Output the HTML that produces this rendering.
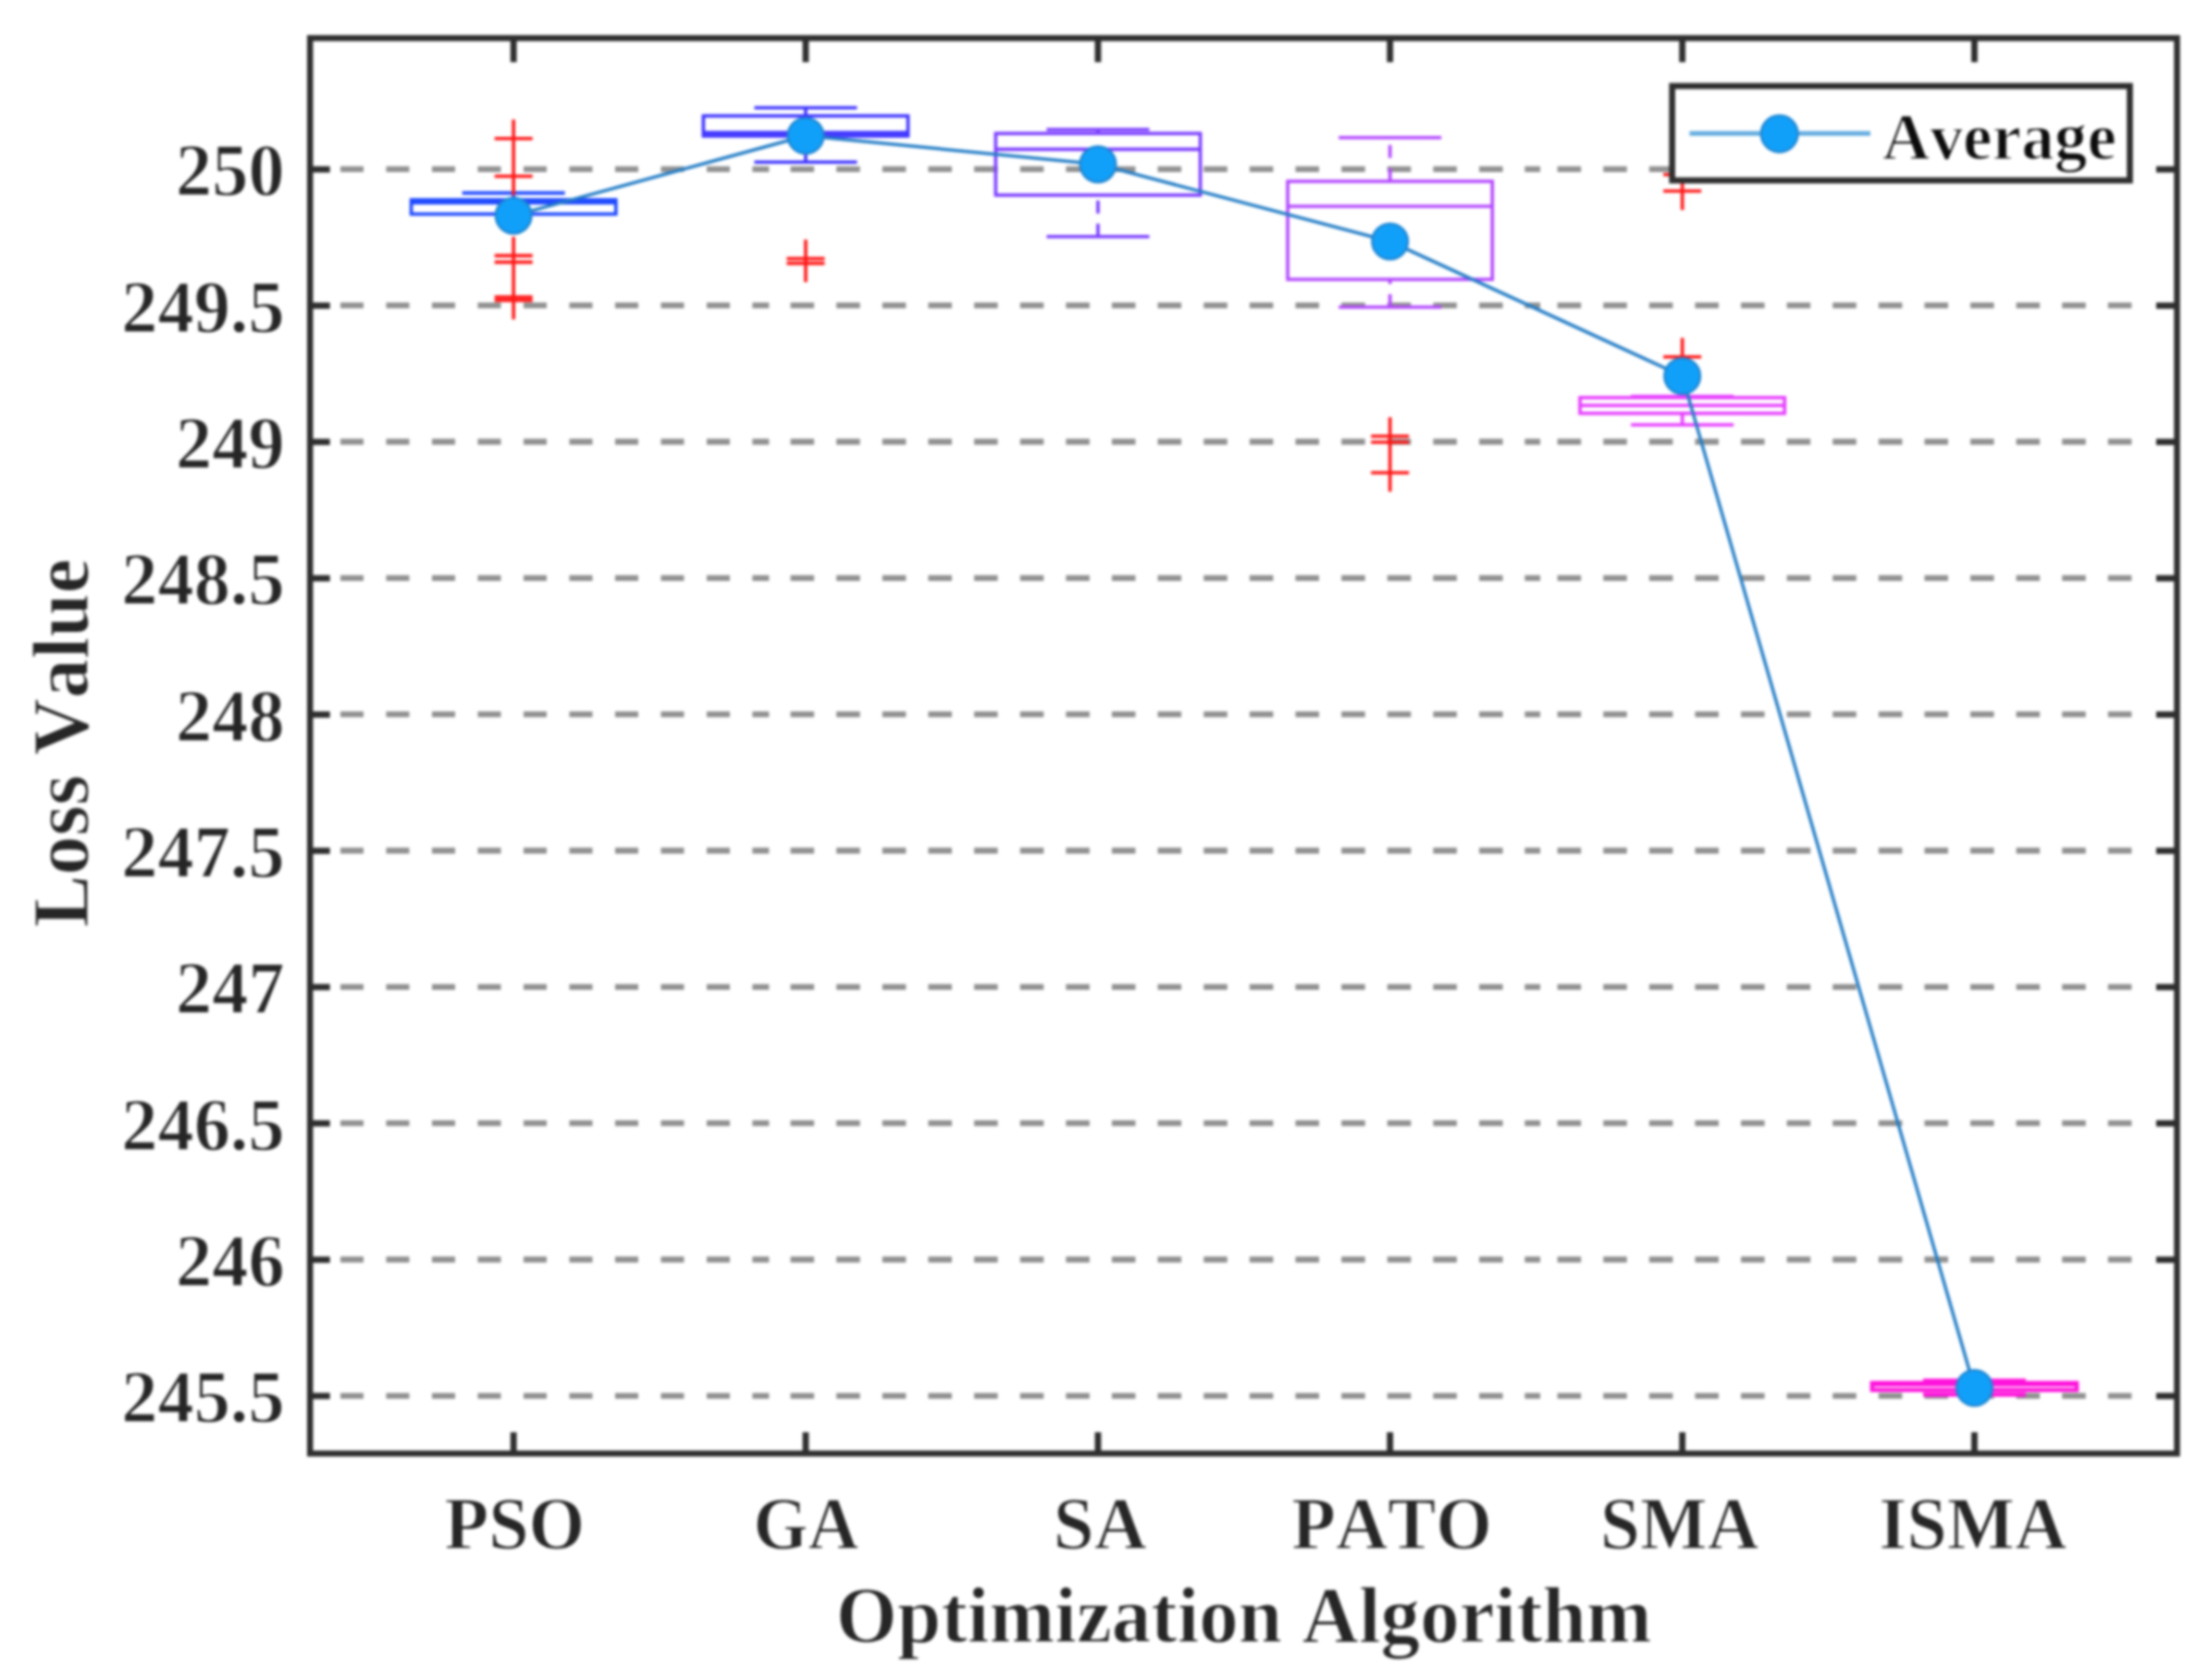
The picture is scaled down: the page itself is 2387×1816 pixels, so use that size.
<!DOCTYPE html>
<html lang="en"><head><meta charset="utf-8"><title>Loss value by optimization algorithm</title>
<style>
html,body{margin:0;padding:0;background:#fff;}
body{width:2387px;height:1816px;overflow:hidden;}
svg{display:block;filter:blur(1.4px);}
text{font-family:"Liberation Serif",serif;font-weight:bold;fill:#262626;font-kerning:none;stroke:#ffffff;stroke-width:1.3px;stroke-linejoin:round;}
.tick{font-size:80.6px;}
.lab{font-size:87.4px;}
.leg{font-size:71.2px;fill:#0c0c0c;stroke-width:1.6px;}
</style></head><body>
<svg width="2387" height="1816" viewBox="0 0 2387 1816">
<rect x="0" y="0" width="2387" height="1816" fill="#ffffff"/>
<path d="M368.0 182.9h25.0M417.5 182.9h25.0M467.0 182.9h25.0M516.5 182.9h25.0M566.0 182.9h25.0M615.5 182.9h25.0M665.0 182.9h25.0M714.5 182.9h25.0M764.0 182.9h25.0M813.4 182.9h18.0M854.6 182.9h25.5M904.2 182.9h25.5M953.9 182.9h25.5M1003.5 182.9h25.5M1053.1 182.9h25.5M1102.8 182.9h25.5M1152.4 182.9h25.5M1202.0 182.9h25.5M1251.6 182.9h25.5M1301.3 182.9h25.5M1350.9 182.9h25.5M1400.5 182.9h25.5M1450.2 182.9h25.5M1499.8 182.9h25.5M1549.4 182.9h25.5M1599.1 182.9h25.5M1648.4 182.9h16.7M1683.7 182.9h25.5M1733.3 182.9h25.5M1782.9 182.9h25.5M1832.5 182.9h25.5M1882.1 182.9h25.5M1931.7 182.9h25.5M1981.3 182.9h25.5M2030.9 182.9h25.5M2080.5 182.9h25.5M2130.1 182.9h25.5M2179.7 182.9h25.5M2229.3 182.9h25.5M2278.9 182.9h25.5M368.0 330.2h25.0M417.5 330.2h25.0M467.0 330.2h25.0M516.5 330.2h25.0M566.0 330.2h25.0M615.5 330.2h25.0M665.0 330.2h25.0M714.5 330.2h25.0M764.0 330.2h25.0M813.4 330.2h18.0M854.6 330.2h25.5M904.2 330.2h25.5M953.9 330.2h25.5M1003.5 330.2h25.5M1053.1 330.2h25.5M1102.8 330.2h25.5M1152.4 330.2h25.5M1202.0 330.2h25.5M1251.6 330.2h25.5M1301.3 330.2h25.5M1350.9 330.2h25.5M1400.5 330.2h25.5M1450.2 330.2h25.5M1499.8 330.2h25.5M1549.4 330.2h25.5M1599.1 330.2h25.5M1648.4 330.2h16.7M1683.7 330.2h25.5M1733.3 330.2h25.5M1782.9 330.2h25.5M1832.5 330.2h25.5M1882.1 330.2h25.5M1931.7 330.2h25.5M1981.3 330.2h25.5M2030.9 330.2h25.5M2080.5 330.2h25.5M2130.1 330.2h25.5M2179.7 330.2h25.5M2229.3 330.2h25.5M2278.9 330.2h25.5M368.0 477.5h25.0M417.5 477.5h25.0M467.0 477.5h25.0M516.5 477.5h25.0M566.0 477.5h25.0M615.5 477.5h25.0M665.0 477.5h25.0M714.5 477.5h25.0M764.0 477.5h25.0M813.4 477.5h18.0M854.6 477.5h25.5M904.2 477.5h25.5M953.9 477.5h25.5M1003.5 477.5h25.5M1053.1 477.5h25.5M1102.8 477.5h25.5M1152.4 477.5h25.5M1202.0 477.5h25.5M1251.6 477.5h25.5M1301.3 477.5h25.5M1350.9 477.5h25.5M1400.5 477.5h25.5M1450.2 477.5h25.5M1499.8 477.5h25.5M1549.4 477.5h25.5M1599.1 477.5h25.5M1648.4 477.5h16.7M1683.7 477.5h25.5M1733.3 477.5h25.5M1782.9 477.5h25.5M1832.5 477.5h25.5M1882.1 477.5h25.5M1931.7 477.5h25.5M1981.3 477.5h25.5M2030.9 477.5h25.5M2080.5 477.5h25.5M2130.1 477.5h25.5M2179.7 477.5h25.5M2229.3 477.5h25.5M2278.9 477.5h25.5M368.0 624.9h25.0M417.5 624.9h25.0M467.0 624.9h25.0M516.5 624.9h25.0M566.0 624.9h25.0M615.5 624.9h25.0M665.0 624.9h25.0M714.5 624.9h25.0M764.0 624.9h25.0M813.4 624.9h18.0M854.6 624.9h25.5M904.2 624.9h25.5M953.9 624.9h25.5M1003.5 624.9h25.5M1053.1 624.9h25.5M1102.8 624.9h25.5M1152.4 624.9h25.5M1202.0 624.9h25.5M1251.6 624.9h25.5M1301.3 624.9h25.5M1350.9 624.9h25.5M1400.5 624.9h25.5M1450.2 624.9h25.5M1499.8 624.9h25.5M1549.4 624.9h25.5M1599.1 624.9h25.5M1648.4 624.9h16.7M1683.7 624.9h25.5M1733.3 624.9h25.5M1782.9 624.9h25.5M1832.5 624.9h25.5M1882.1 624.9h25.5M1931.7 624.9h25.5M1981.3 624.9h25.5M2030.9 624.9h25.5M2080.5 624.9h25.5M2130.1 624.9h25.5M2179.7 624.9h25.5M2229.3 624.9h25.5M2278.9 624.9h25.5M368.0 772.2h25.0M417.5 772.2h25.0M467.0 772.2h25.0M516.5 772.2h25.0M566.0 772.2h25.0M615.5 772.2h25.0M665.0 772.2h25.0M714.5 772.2h25.0M764.0 772.2h25.0M813.4 772.2h18.0M854.6 772.2h25.5M904.2 772.2h25.5M953.9 772.2h25.5M1003.5 772.2h25.5M1053.1 772.2h25.5M1102.8 772.2h25.5M1152.4 772.2h25.5M1202.0 772.2h25.5M1251.6 772.2h25.5M1301.3 772.2h25.5M1350.9 772.2h25.5M1400.5 772.2h25.5M1450.2 772.2h25.5M1499.8 772.2h25.5M1549.4 772.2h25.5M1599.1 772.2h25.5M1648.4 772.2h16.7M1683.7 772.2h25.5M1733.3 772.2h25.5M1782.9 772.2h25.5M1832.5 772.2h25.5M1882.1 772.2h25.5M1931.7 772.2h25.5M1981.3 772.2h25.5M2030.9 772.2h25.5M2080.5 772.2h25.5M2130.1 772.2h25.5M2179.7 772.2h25.5M2229.3 772.2h25.5M2278.9 772.2h25.5M368.0 919.5h25.0M417.5 919.5h25.0M467.0 919.5h25.0M516.5 919.5h25.0M566.0 919.5h25.0M615.5 919.5h25.0M665.0 919.5h25.0M714.5 919.5h25.0M764.0 919.5h25.0M813.4 919.5h18.0M854.6 919.5h25.5M904.2 919.5h25.5M953.9 919.5h25.5M1003.5 919.5h25.5M1053.1 919.5h25.5M1102.8 919.5h25.5M1152.4 919.5h25.5M1202.0 919.5h25.5M1251.6 919.5h25.5M1301.3 919.5h25.5M1350.9 919.5h25.5M1400.5 919.5h25.5M1450.2 919.5h25.5M1499.8 919.5h25.5M1549.4 919.5h25.5M1599.1 919.5h25.5M1648.4 919.5h16.7M1683.7 919.5h25.5M1733.3 919.5h25.5M1782.9 919.5h25.5M1832.5 919.5h25.5M1882.1 919.5h25.5M1931.7 919.5h25.5M1981.3 919.5h25.5M2030.9 919.5h25.5M2080.5 919.5h25.5M2130.1 919.5h25.5M2179.7 919.5h25.5M2229.3 919.5h25.5M2278.9 919.5h25.5M368.0 1066.8h25.0M417.5 1066.8h25.0M467.0 1066.8h25.0M516.5 1066.8h25.0M566.0 1066.8h25.0M615.5 1066.8h25.0M665.0 1066.8h25.0M714.5 1066.8h25.0M764.0 1066.8h25.0M813.4 1066.8h18.0M854.6 1066.8h25.5M904.2 1066.8h25.5M953.9 1066.8h25.5M1003.5 1066.8h25.5M1053.1 1066.8h25.5M1102.8 1066.8h25.5M1152.4 1066.8h25.5M1202.0 1066.8h25.5M1251.6 1066.8h25.5M1301.3 1066.8h25.5M1350.9 1066.8h25.5M1400.5 1066.8h25.5M1450.2 1066.8h25.5M1499.8 1066.8h25.5M1549.4 1066.8h25.5M1599.1 1066.8h25.5M1648.4 1066.8h16.7M1683.7 1066.8h25.5M1733.3 1066.8h25.5M1782.9 1066.8h25.5M1832.5 1066.8h25.5M1882.1 1066.8h25.5M1931.7 1066.8h25.5M1981.3 1066.8h25.5M2030.9 1066.8h25.5M2080.5 1066.8h25.5M2130.1 1066.8h25.5M2179.7 1066.8h25.5M2229.3 1066.8h25.5M2278.9 1066.8h25.5M368.0 1214.1h25.0M417.5 1214.1h25.0M467.0 1214.1h25.0M516.5 1214.1h25.0M566.0 1214.1h25.0M615.5 1214.1h25.0M665.0 1214.1h25.0M714.5 1214.1h25.0M764.0 1214.1h25.0M813.4 1214.1h18.0M854.6 1214.1h25.5M904.2 1214.1h25.5M953.9 1214.1h25.5M1003.5 1214.1h25.5M1053.1 1214.1h25.5M1102.8 1214.1h25.5M1152.4 1214.1h25.5M1202.0 1214.1h25.5M1251.6 1214.1h25.5M1301.3 1214.1h25.5M1350.9 1214.1h25.5M1400.5 1214.1h25.5M1450.2 1214.1h25.5M1499.8 1214.1h25.5M1549.4 1214.1h25.5M1599.1 1214.1h25.5M1648.4 1214.1h16.7M1683.7 1214.1h25.5M1733.3 1214.1h25.5M1782.9 1214.1h25.5M1832.5 1214.1h25.5M1882.1 1214.1h25.5M1931.7 1214.1h25.5M1981.3 1214.1h25.5M2030.9 1214.1h25.5M2080.5 1214.1h25.5M2130.1 1214.1h25.5M2179.7 1214.1h25.5M2229.3 1214.1h25.5M2278.9 1214.1h25.5M368.0 1361.5h25.0M417.5 1361.5h25.0M467.0 1361.5h25.0M516.5 1361.5h25.0M566.0 1361.5h25.0M615.5 1361.5h25.0M665.0 1361.5h25.0M714.5 1361.5h25.0M764.0 1361.5h25.0M813.4 1361.5h18.0M854.6 1361.5h25.5M904.2 1361.5h25.5M953.9 1361.5h25.5M1003.5 1361.5h25.5M1053.1 1361.5h25.5M1102.8 1361.5h25.5M1152.4 1361.5h25.5M1202.0 1361.5h25.5M1251.6 1361.5h25.5M1301.3 1361.5h25.5M1350.9 1361.5h25.5M1400.5 1361.5h25.5M1450.2 1361.5h25.5M1499.8 1361.5h25.5M1549.4 1361.5h25.5M1599.1 1361.5h25.5M1648.4 1361.5h16.7M1683.7 1361.5h25.5M1733.3 1361.5h25.5M1782.9 1361.5h25.5M1832.5 1361.5h25.5M1882.1 1361.5h25.5M1931.7 1361.5h25.5M1981.3 1361.5h25.5M2030.9 1361.5h25.5M2080.5 1361.5h25.5M2130.1 1361.5h25.5M2179.7 1361.5h25.5M2229.3 1361.5h25.5M2278.9 1361.5h25.5M368.0 1508.8h25.0M417.5 1508.8h25.0M467.0 1508.8h25.0M516.5 1508.8h25.0M566.0 1508.8h25.0M615.5 1508.8h25.0M665.0 1508.8h25.0M714.5 1508.8h25.0M764.0 1508.8h25.0M813.4 1508.8h18.0M854.6 1508.8h25.5M904.2 1508.8h25.5M953.9 1508.8h25.5M1003.5 1508.8h25.5M1053.1 1508.8h25.5M1102.8 1508.8h25.5M1152.4 1508.8h25.5M1202.0 1508.8h25.5M1251.6 1508.8h25.5M1301.3 1508.8h25.5M1350.9 1508.8h25.5M1400.5 1508.8h25.5M1450.2 1508.8h25.5M1499.8 1508.8h25.5M1549.4 1508.8h25.5M1599.1 1508.8h25.5M1648.4 1508.8h16.7M1683.7 1508.8h25.5M1733.3 1508.8h25.5M1782.9 1508.8h25.5M1832.5 1508.8h25.5M1882.1 1508.8h25.5M1931.7 1508.8h25.5M1981.3 1508.8h25.5M2030.9 1508.8h25.5M2080.5 1508.8h25.5M2130.1 1508.8h25.5M2179.7 1508.8h25.5M2229.3 1508.8h25.5M2278.9 1508.8h25.5" stroke="#919191" stroke-width="6.3" fill="none"/>
<rect x="335.2" y="41.2" width="2018.3" height="1530.0" fill="none" stroke="#2e2e2e" stroke-width="6.5"/>
<g stroke="#2e2e2e" stroke-width="6.8" fill="none">
<line x1="555.2" y1="41.2" x2="555.2" y2="67.2"/>
<line x1="555.2" y1="1571.2" x2="555.2" y2="1548.2"/>
<line x1="871.0" y1="41.2" x2="871.0" y2="67.2"/>
<line x1="871.0" y1="1571.2" x2="871.0" y2="1548.2"/>
<line x1="1187.0" y1="41.2" x2="1187.0" y2="67.2"/>
<line x1="1187.0" y1="1571.2" x2="1187.0" y2="1548.2"/>
<line x1="1502.7" y1="41.2" x2="1502.7" y2="67.2"/>
<line x1="1502.7" y1="1571.2" x2="1502.7" y2="1548.2"/>
<line x1="1818.7" y1="41.2" x2="1818.7" y2="67.2"/>
<line x1="1818.7" y1="1571.2" x2="1818.7" y2="1548.2"/>
<line x1="2134.5" y1="41.2" x2="2134.5" y2="67.2"/>
<line x1="2134.5" y1="1571.2" x2="2134.5" y2="1548.2"/>
<line x1="335.2" y1="183.1" x2="356.7" y2="183.1"/>
<line x1="2353.5" y1="183.1" x2="2331.0" y2="183.1"/>
<line x1="335.2" y1="330.4" x2="356.7" y2="330.4"/>
<line x1="2353.5" y1="330.4" x2="2331.0" y2="330.4"/>
<line x1="335.2" y1="477.7" x2="356.7" y2="477.7"/>
<line x1="2353.5" y1="477.7" x2="2331.0" y2="477.7"/>
<line x1="335.2" y1="625.1" x2="356.7" y2="625.1"/>
<line x1="2353.5" y1="625.1" x2="2331.0" y2="625.1"/>
<line x1="335.2" y1="772.4" x2="356.7" y2="772.4"/>
<line x1="2353.5" y1="772.4" x2="2331.0" y2="772.4"/>
<line x1="335.2" y1="919.7" x2="356.7" y2="919.7"/>
<line x1="2353.5" y1="919.7" x2="2331.0" y2="919.7"/>
<line x1="335.2" y1="1067.0" x2="356.7" y2="1067.0"/>
<line x1="2353.5" y1="1067.0" x2="2331.0" y2="1067.0"/>
<line x1="335.2" y1="1214.3" x2="356.7" y2="1214.3"/>
<line x1="2353.5" y1="1214.3" x2="2331.0" y2="1214.3"/>
<line x1="335.2" y1="1361.7" x2="356.7" y2="1361.7"/>
<line x1="2353.5" y1="1361.7" x2="2331.0" y2="1361.7"/>
<line x1="335.2" y1="1509.0" x2="356.7" y2="1509.0"/>
<line x1="2353.5" y1="1509.0" x2="2331.0" y2="1509.0"/>
</g>
<g stroke="#1a46ff" stroke-width="3.6" fill="none">
<line x1="499.7" y1="208.6" x2="610.7" y2="208.6"/>
<line x1="555.2" y1="208.6" x2="555.2" y2="216.0"/>
<rect x="444.6" y="216.0" width="221.2" height="15.4"/>
<line x1="444.6" y1="219.3" x2="665.8" y2="219.3"/>
</g>
<g stroke="#3d33ff" stroke-width="3.6" fill="none">
<line x1="815.5" y1="116.5" x2="926.5" y2="116.5"/>
<line x1="871.0" y1="116.5" x2="871.0" y2="125.3"/>
<line x1="815.5" y1="175.3" x2="926.5" y2="175.3"/>
<line x1="871.0" y1="175.3" x2="871.0" y2="147.0"/>
<rect x="760.4" y="125.3" width="221.2" height="21.7"/>
<line x1="760.4" y1="143.4" x2="981.6" y2="143.4"/>
</g>
<g stroke="#7a3dff" stroke-width="3.6" fill="none">
<line x1="1131.5" y1="140.0" x2="1242.5" y2="140.0"/>
<line x1="1187.0" y1="140.0" x2="1187.0" y2="144.3"/>
<line x1="1131.5" y1="255.7" x2="1242.5" y2="255.7"/>
<line x1="1187.0" y1="255.7" x2="1187.0" y2="210.9" stroke-dasharray="14 11"/>
<rect x="1076.4" y="144.3" width="221.2" height="66.6"/>
<line x1="1076.4" y1="161.4" x2="1297.6" y2="161.4"/>
</g>
<g stroke="#b347ff" stroke-width="3.6" fill="none">
<line x1="1447.2" y1="148.7" x2="1558.2" y2="148.7"/>
<line x1="1502.7" y1="148.7" x2="1502.7" y2="196.0" stroke-dasharray="14 11" stroke-dashoffset="-8"/>
<line x1="1447.2" y1="332.0" x2="1558.2" y2="332.0"/>
<line x1="1502.7" y1="332.0" x2="1502.7" y2="302.0" stroke-dasharray="14 11"/>
<rect x="1392.1" y="196.0" width="221.2" height="106.0"/>
<line x1="1392.1" y1="223.0" x2="1613.3" y2="223.0"/>
</g>
<g stroke="#e63cff" stroke-width="3.6" fill="none">
<line x1="1763.2" y1="428.5" x2="1874.2" y2="428.5"/>
<line x1="1818.7" y1="428.5" x2="1818.7" y2="429.8"/>
<line x1="1763.2" y1="459.2" x2="1874.2" y2="459.2"/>
<line x1="1818.7" y1="459.2" x2="1818.7" y2="446.8"/>
<rect x="1708.1" y="429.8" width="221.2" height="17.0"/>
<line x1="1708.1" y1="438.3" x2="1929.3" y2="438.3"/>
</g>
<g stroke="#ff14dc" stroke-width="4.5" fill="none">
<line x1="2079.0" y1="1492.5" x2="2190.0" y2="1492.5"/>
<line x1="2134.5" y1="1492.5" x2="2134.5" y2="1495.0"/>
<line x1="2079.0" y1="1507.5" x2="2190.0" y2="1507.5"/>
<line x1="2134.5" y1="1507.5" x2="2134.5" y2="1502.5"/>
<rect x="2023.9" y="1495.0" width="221.2" height="7.5"/>
<line x1="2023.9" y1="1496.5" x2="2245.1" y2="1496.5"/>
</g>
<path d="M534.7 149.8H575.7M555.2 129.3V170.3M534.7 190.5H575.7M555.2 170.0V211.0M534.7 276.4H575.7M555.2 255.9V296.9M534.7 283.4H575.7M555.2 262.9V303.9M534.7 321.0H575.7M555.2 300.5V341.5M534.7 324.8H575.7M555.2 304.3V345.3M850.5 279.5H891.5M871.0 259.0V300.0M850.5 284.6H891.5M871.0 264.1V305.1M1482.2 471.5H1523.2M1502.7 451.0V492.0M1482.2 478.0H1523.2M1502.7 457.5V498.5M1482.2 511.0H1523.2M1502.7 490.5V531.5M1798.2 188.8H1839.2M1818.7 168.3V209.3M1798.2 206.5H1839.2M1818.7 186.0V227.0M1798.2 385.8H1839.2M1818.7 365.3V406.3" stroke="#ff1616" stroke-width="3.6" fill="none"/>
<polyline points="555.2,233.1 871.0,146.7 1187.0,177.6 1502.7,261.0 1818.7,406.5 2134.5,1500.3" fill="none" stroke="#237dc6" stroke-width="3.5" stroke-linejoin="round"/>
<g fill="#10a0fa" stroke="#1f86d2" stroke-width="2.5">
<circle cx="555.2" cy="233.1" r="19.3"/>
<circle cx="871.0" cy="146.7" r="19.3"/>
<circle cx="1187.0" cy="177.6" r="19.3"/>
<circle cx="1502.7" cy="261.0" r="19.3"/>
<circle cx="1818.7" cy="406.5" r="19.3"/>
<circle cx="2134.5" cy="1500.3" r="19.3"/>
</g>
<rect x="1807.7" y="93.0" width="494.8" height="102.0" fill="#ffffff" stroke="#2e2e2e" stroke-width="6.6"/>
<line x1="1826.5" y1="144.2" x2="2022" y2="144.2" stroke="#62abdf" stroke-width="5"/>
<circle cx="1923.7" cy="144.6" r="19.8" fill="#10a0fa" stroke="#1f86d2" stroke-width="2.5"/>
<text class="leg" x="2035" y="172.3">Average</text>
<text class="tick" text-anchor="end" transform="translate(307.6 211.3) scale(0.972 1)">250</text>
<text class="tick" text-anchor="end" transform="translate(307.6 358.6) scale(0.972 1)">249.5</text>
<text class="tick" text-anchor="end" transform="translate(307.6 505.9) scale(0.972 1)">249</text>
<text class="tick" text-anchor="end" transform="translate(307.6 653.3) scale(0.972 1)">248.5</text>
<text class="tick" text-anchor="end" transform="translate(307.6 800.6) scale(0.972 1)">248</text>
<text class="tick" text-anchor="end" transform="translate(307.6 947.9) scale(0.972 1)">247.5</text>
<text class="tick" text-anchor="end" transform="translate(307.6 1095.2) scale(0.972 1)">247</text>
<text class="tick" text-anchor="end" transform="translate(307.6 1242.5) scale(0.972 1)">246.5</text>
<text class="tick" text-anchor="end" transform="translate(307.6 1389.9) scale(0.972 1)">246</text>
<text class="tick" text-anchor="end" transform="translate(307.6 1537.2) scale(0.972 1)">245.5</text>
<text class="tick" text-anchor="middle" transform="translate(556.4 1673.7) scale(0.969 1)">PSO</text>
<text class="tick" text-anchor="middle" transform="translate(871.5 1673.7) scale(0.942 1)">GA</text>
<text class="tick" text-anchor="middle" transform="translate(1189.3 1673.7) scale(0.980 1)">SA</text>
<text class="tick" text-anchor="middle" transform="translate(1504.7 1673.7) scale(0.968 1)">PATO</text>
<text class="tick" text-anchor="middle" transform="translate(1815.7 1673.7) scale(0.957 1)">SMA</text>
<text class="tick" text-anchor="middle" transform="translate(2132.8 1673.7) scale(0.965 1)">ISMA</text>
<text class="lab" text-anchor="middle" transform="translate(1344.8 1775.0) scale(0.974 1)">Optimization Algorithm</text>
<text class="lab" text-anchor="middle" transform="translate(95.0 803.2) rotate(-90) scale(0.972 1)">Loss Value</text>
</svg>
</body></html>
